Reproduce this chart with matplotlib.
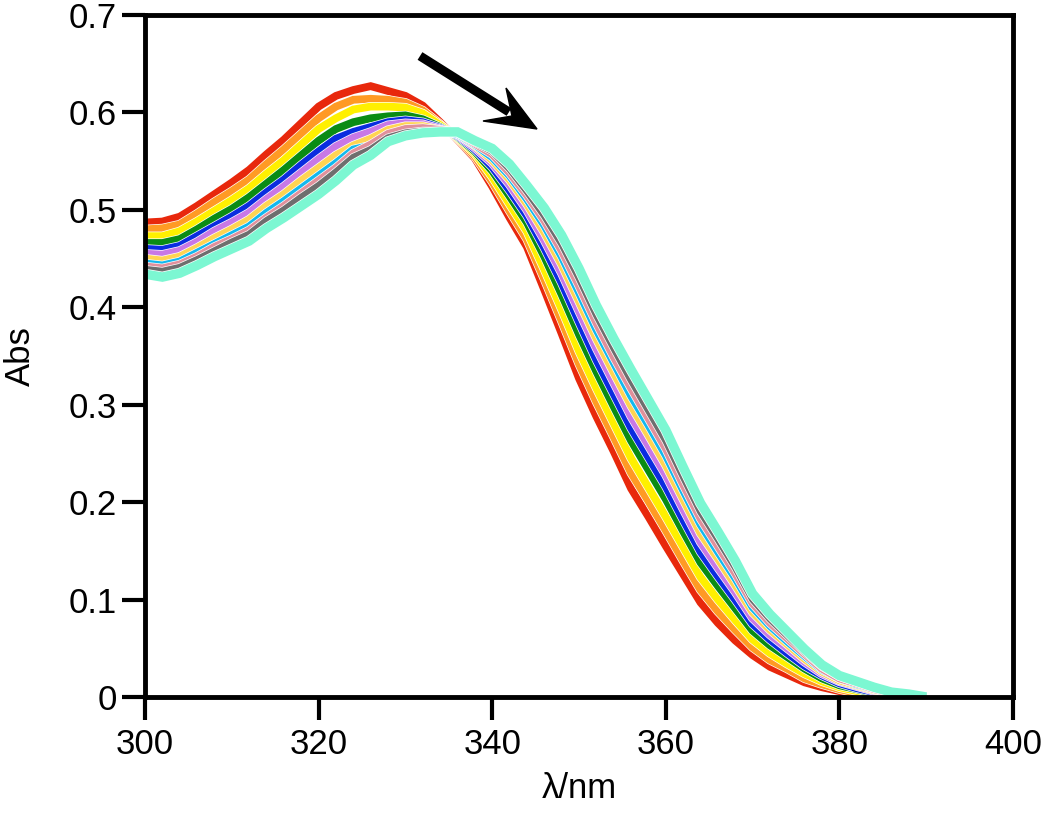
import matplotlib
matplotlib.use("Agg")
import matplotlib.pyplot as plt
import matplotlib.patheffects as pe
from matplotlib.patches import Polygon

plt.rcParams['font.family'] = ['Liberation Sans', 'DejaVu Sans']

wavelength = list(range(300, 392, 2))

red = [0.487, 0.488, 0.493, 0.504, 0.516, 0.528, 0.541, 0.557, 0.572, 0.589, 0.606, 0.617, 0.623, 0.627,
       0.622, 0.617, 0.607, 0.590, 0.572, 0.553, 0.524, 0.492, 0.462, 0.418, 0.373, 0.327, 0.288, 0.252,
       0.214, 0.185, 0.155, 0.126, 0.097, 0.076, 0.058, 0.043, 0.031, 0.023, 0.015, 0.010, 0.006, 0.002,
       0.000, 0.000, 0.000, 0.000]
orange = [0.480, 0.481, 0.485, 0.496, 0.508, 0.519, 0.531, 0.547, 0.562, 0.578, 0.594, 0.606, 0.613, 0.614,
          0.613, 0.610, 0.602, 0.588, 0.573, 0.555, 0.529, 0.499, 0.470, 0.429, 0.386, 0.342, 0.303, 0.267,
          0.230, 0.201, 0.171, 0.140, 0.110, 0.088, 0.069, 0.051, 0.038, 0.029, 0.019, 0.013, 0.008, 0.004,
          0.001, 0.001, 0.000, 0.000]
yellow = [0.473, 0.473, 0.478, 0.488, 0.499, 0.510, 0.522, 0.537, 0.551, 0.567, 0.583, 0.594, 0.603, 0.606,
          0.606, 0.605, 0.599, 0.587, 0.574, 0.558, 0.534, 0.506, 0.478, 0.439, 0.398, 0.355, 0.317, 0.281,
          0.245, 0.215, 0.185, 0.154, 0.123, 0.100, 0.079, 0.059, 0.045, 0.034, 0.024, 0.016, 0.010, 0.006,
          0.003, 0.001, 0.001, 0.000]
green = [0.466, 0.466, 0.470, 0.480, 0.491, 0.501, 0.513, 0.527, 0.541, 0.556, 0.571, 0.583, 0.590, 0.594,
         0.596, 0.597, 0.593, 0.585, 0.575, 0.560, 0.540, 0.514, 0.487, 0.452, 0.413, 0.372, 0.334, 0.298,
         0.263, 0.233, 0.203, 0.170, 0.138, 0.114, 0.091, 0.068, 0.053, 0.041, 0.029, 0.019, 0.012, 0.008,
         0.004, 0.002, 0.001, 0.000]
blue = [0.460, 0.459, 0.463, 0.473, 0.483, 0.493, 0.504, 0.518, 0.531, 0.546, 0.560, 0.573, 0.580, 0.585,
        0.590, 0.592, 0.590, 0.584, 0.576, 0.562, 0.544, 0.520, 0.494, 0.461, 0.425, 0.385, 0.346, 0.311,
        0.276, 0.246, 0.216, 0.182, 0.149, 0.124, 0.100, 0.075, 0.059, 0.045, 0.032, 0.022, 0.014, 0.009,
        0.005, 0.003, 0.001, 0.000]
purple = [0.455, 0.454, 0.458, 0.467, 0.478, 0.487, 0.497, 0.511, 0.524, 0.538, 0.552, 0.565, 0.574, 0.580,
          0.587, 0.589, 0.588, 0.583, 0.577, 0.564, 0.548, 0.526, 0.500, 0.469, 0.435, 0.396, 0.358, 0.323,
          0.288, 0.258, 0.228, 0.193, 0.159, 0.133, 0.108, 0.081, 0.064, 0.050, 0.036, 0.024, 0.016, 0.011,
          0.006, 0.003, 0.002, 0.000]
gold = [0.450, 0.448, 0.452, 0.461, 0.471, 0.480, 0.490, 0.504, 0.516, 0.530, 0.543, 0.556, 0.566, 0.573,
        0.582, 0.586, 0.586, 0.582, 0.578, 0.566, 0.551, 0.531, 0.506, 0.477, 0.444, 0.406, 0.368, 0.333,
        0.299, 0.269, 0.238, 0.203, 0.168, 0.142, 0.115, 0.087, 0.069, 0.054, 0.039, 0.026, 0.017, 0.012,
        0.007, 0.004, 0.002, 0.000]
cyan = [0.445, 0.443, 0.447, 0.456, 0.465, 0.474, 0.483, 0.497, 0.509, 0.522, 0.535, 0.548, 0.562, 0.566,
        0.577, 0.582, 0.583, 0.581, 0.578, 0.567, 0.554, 0.535, 0.511, 0.484, 0.452, 0.415, 0.377, 0.343,
        0.309, 0.279, 0.248, 0.212, 0.177, 0.149, 0.122, 0.092, 0.073, 0.057, 0.042, 0.028, 0.019, 0.013,
        0.008, 0.004, 0.002, 0.000]
pink = [0.442, 0.440, 0.444, 0.452, 0.462, 0.470, 0.479, 0.492, 0.504, 0.517, 0.530, 0.543, 0.558, 0.567,
        0.578, 0.583, 0.584, 0.582, 0.579, 0.568, 0.557, 0.538, 0.515, 0.489, 0.458, 0.422, 0.384, 0.349,
        0.317, 0.286, 0.255, 0.218, 0.183, 0.155, 0.127, 0.096, 0.076, 0.060, 0.044, 0.029, 0.019, 0.014,
        0.008, 0.004, 0.003, 0.000]
gray = [0.439, 0.437, 0.441, 0.449, 0.458, 0.467, 0.475, 0.489, 0.500, 0.513, 0.525, 0.539, 0.554, 0.562,
        0.574, 0.579, 0.581, 0.581, 0.579, 0.569, 0.560, 0.542, 0.519, 0.494, 0.465, 0.430, 0.392, 0.358,
        0.325, 0.294, 0.263, 0.226, 0.190, 0.162, 0.133, 0.100, 0.080, 0.063, 0.046, 0.031, 0.021, 0.015,
        0.009, 0.005, 0.003, 0.000]
aqua = [0.434, 0.431, 0.435, 0.443, 0.452, 0.460, 0.468, 0.481, 0.492, 0.504, 0.516, 0.530, 0.546, 0.556,
        0.570, 0.576, 0.579, 0.580, 0.580, 0.571, 0.563, 0.547, 0.525, 0.502, 0.474, 0.440, 0.402, 0.368,
        0.336, 0.305, 0.274, 0.236, 0.199, 0.170, 0.140, 0.106, 0.085, 0.067, 0.049, 0.033, 0.022, 0.016,
        0.010, 0.005, 0.003, 0.000]

series = [red, orange, yellow, green, blue, purple, gold, cyan, pink, gray, aqua]
colors = ['#e8280c', '#ff9a24', '#fff000', '#0a8c14', '#0a2ce0', '#c878e6', '#ffd452',
          '#12b8ee', '#e0909c', '#6e6e6e', '#7cf7d2']
widths = [5.6, 5.6, 5.6, 5.6, 5.6, 5.6, 5.6, 5.6, 5.6, 5.0, 6.8]

x_ticks = [300, 320, 340, 360, 380, 400]
y_ticks = [0, 0.1, 0.2, 0.3, 0.4, 0.5, 0.6, 0.7]
y_tick_labels = ['0', '0.1', '0.2', '0.3', '0.4', '0.5', '0.6', '0.7']

fig = plt.figure(figsize=(10.5, 8.16), dpi=100)
ax = fig.add_axes([145 / 1050, 1 - 697 / 816, 868 / 1050, 682 / 816])

for s, c, w in zip(series, colors, widths):
    ax.plot(wavelength, s, color=c, lw=w, solid_joinstyle='miter', solid_capstyle='butt',
            path_effects=[pe.Stroke(linewidth=w + 1.0, foreground='white'), pe.Normal()])

ax.set_xlim(300, 400)
ax.set_ylim(0, 0.7)
ax.set_xticks(x_ticks)
ax.set_xticklabels([str(t) for t in x_ticks])
ax.set_yticks(y_ticks)
ax.set_yticklabels(y_tick_labels)
ax.tick_params(direction='out', length=16.5, width=3, labelsize=25, pad=4, color='black')
ax.tick_params(axis='x', pad=6)
for sp in ax.spines.values():
    sp.set_linewidth(3.5)
    sp.set_zorder(5)

ax.set_xlabel('λ/nm', fontsize=25, labelpad=8)
ax.set_ylabel('Abs', fontsize=25)
ax.yaxis.set_label_coords(-0.124, 0.5)

# arrow annotation placed in figure pixel positions
def fp(px, py):
    return (px / 1050, 1 - py / 816)

shaft = plt.Line2D([fp(420, 56)[0], fp(509, 112)[0]], [fp(420, 56)[1], fp(509, 112)[1]],
                   transform=fig.transFigure, color='black', lw=6.5, solid_capstyle='butt')
fig.lines.append(shaft)
head = Polygon([fp(537, 129), fp(506, 88), fp(512, 116), fp(483, 121)], closed=True,
               transform=fig.transFigure, facecolor='black', edgecolor='black', lw=1)
fig.patches.append(head)

fig.savefig('out.png', dpi=100)
